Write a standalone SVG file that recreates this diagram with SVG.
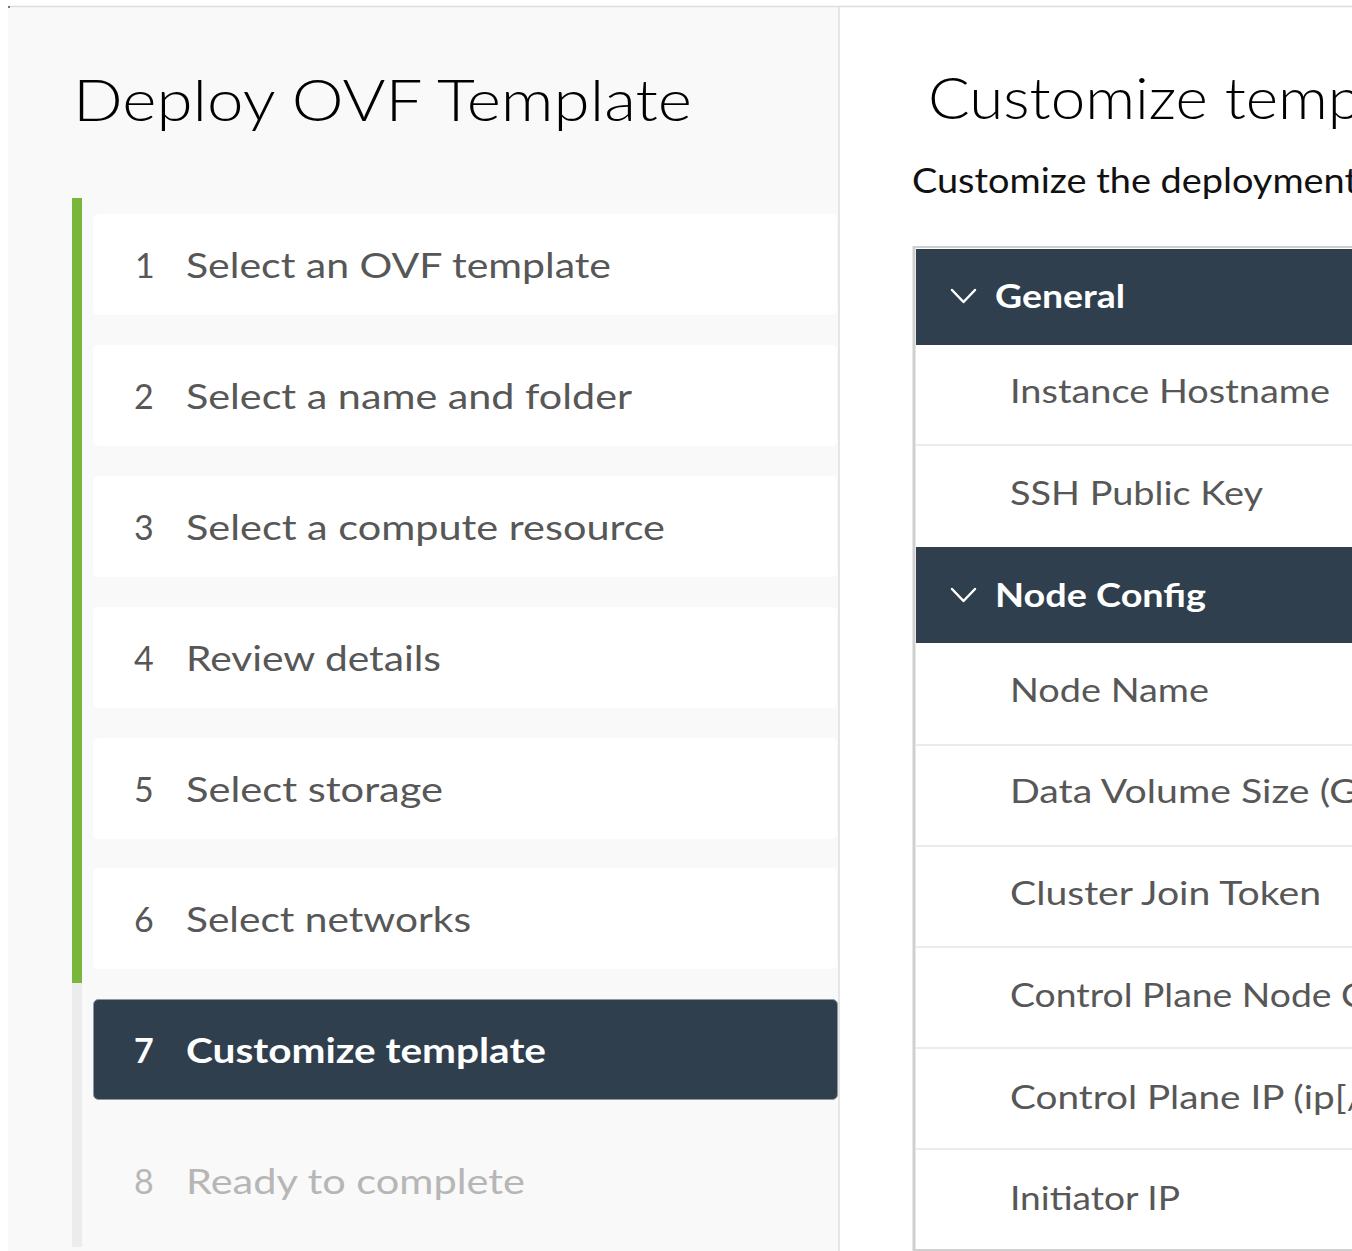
<svg xmlns="http://www.w3.org/2000/svg" width="1352" height="1251" viewBox="0 0 1352 1251">
  <style>
    text { font-family: Lato, "Open Sans", "Liberation Sans", sans-serif; }
    .title { font-size: 57px; font-weight: 300; fill: #000000; }
    .sub { font-size: 34px; fill: #111111; }
    .card { fill: #ffffff; }
    .num { font-size: 34px; fill: #575757; }
    .step { font-size: 34px; fill: #575757; }
    .todo { fill: #b6b6b6; }
    .active-card { fill: #2f3f4e; stroke: #8d98a2; stroke-width: 1; }
    .active { fill: #ffffff; font-weight: 700; }
    .hdr { fill: #2f3f4e; }
    .hdr-text { font-size: 33px; font-weight: 700; fill: #ffffff; }
    .chev { fill: none; stroke: #ffffff; stroke-width: 2.5; stroke-linecap: round; stroke-linejoin: round; }
    .row { fill: #ffffff; }
    .row-sep { stroke: #ebebeb; stroke-width: 2; }
    .row-text { font-size: 33px; fill: #575757; }
  </style>

  <!-- page frame -->
  <rect x="0" y="0" width="1352" height="1251" fill="#ffffff"/>
  <rect x="8" y="7" width="831" height="1244" fill="#f9f9f9"/>
  <line x1="8" y1="6.5" x2="1352" y2="6.5" stroke="#dddddd" stroke-width="1.5"/>
  <rect x="8" y="6" width="2" height="2" fill="#777777"/>
  <rect x="838" y="7" width="2" height="1244" fill="#e6e6e6"/>

  <!-- wizard sidebar -->
  <g id="sidebar">
    <text class="title" x="73" y="121" textLength="619" lengthAdjust="spacingAndGlyphs">Deploy OVF Template</text>
    <rect x="72" y="198" width="10" height="785" fill="#78b63c"/>
    <rect x="72" y="983" width="10" height="264" fill="#ececec"/>
  </g>

  <g id="step-1">
    <rect class="card" x="93" y="214" width="744" height="101" rx="5"/>
    <text class="num" x="135" y="278">1</text>
    <text class="step" x="186" y="278" textLength="425" lengthAdjust="spacingAndGlyphs">Select an OVF template</text>
  </g>
  <g id="step-2">
    <rect class="card" x="93" y="345" width="744" height="101" rx="5"/>
    <text class="num" x="134" y="409">2</text>
    <text class="step" x="186" y="409" textLength="446" lengthAdjust="spacingAndGlyphs">Select a name and folder</text>
  </g>
  <g id="step-3">
    <rect class="card" x="93" y="476" width="744" height="101" rx="5"/>
    <text class="num" x="134" y="540">3</text>
    <text class="step" x="186" y="540" textLength="479" lengthAdjust="spacingAndGlyphs">Select a compute resource</text>
  </g>
  <g id="step-4">
    <rect class="card" x="93" y="607" width="744" height="101" rx="5"/>
    <text class="num" x="134" y="671">4</text>
    <text class="step" x="186" y="671" textLength="255" lengthAdjust="spacingAndGlyphs">Review details</text>
  </g>
  <g id="step-5">
    <rect class="card" x="93" y="738" width="744" height="101" rx="5"/>
    <text class="num" x="134" y="802">5</text>
    <text class="step" x="186" y="802" textLength="257" lengthAdjust="spacingAndGlyphs">Select storage</text>
  </g>
  <g id="step-6">
    <rect class="card" x="93" y="868" width="744" height="101" rx="5"/>
    <text class="num" x="134" y="932">6</text>
    <text class="step" x="186" y="932" textLength="285" lengthAdjust="spacingAndGlyphs">Select networks</text>
  </g>
  <g id="step-7">
    <rect class="active-card" x="93.5" y="999.5" width="744" height="100" rx="5"/>
    <text class="num active" x="134" y="1063">7</text>
    <text class="step active" x="186" y="1063" textLength="360" lengthAdjust="spacingAndGlyphs">Customize template</text>
  </g>
  <g id="step-8">
    <text class="num todo" x="134" y="1194">8</text>
    <text class="step todo" x="186" y="1194" textLength="339" lengthAdjust="spacingAndGlyphs">Ready to complete</text>
  </g>

  <!-- customize template page -->
  <g id="page-heading">
    <text class="title" x="928" y="119" textLength="434" lengthAdjust="spacingAndGlyphs">Customize temp</text>
    <text class="sub" x="912" y="193" textLength="446" lengthAdjust="spacingAndGlyphs">Customize the deployment</text>
  </g>

  <g id="properties-table">
    <rect x="913" y="246" width="439" height="1005" fill="#ffffff"/>
    <line x1="913" y1="247" x2="1352" y2="247" stroke="#cfcfcf" stroke-width="2"/>
    <line x1="914" y1="246" x2="914" y2="1251" stroke="#cfcfcf" stroke-width="3"/>
    <line x1="913" y1="1250" x2="1352" y2="1250" stroke="#d0d0d0" stroke-width="2"/>
  </g>

  <g id="group-general">
    <rect class="hdr" x="916" y="249" width="436" height="96"/>
    <polyline class="chev" points="952,290 963.5,302 975,290"/>
    <text class="hdr-text" x="995" y="308" textLength="130" lengthAdjust="spacingAndGlyphs">General</text>
  </g>
  <g id="row-instance-hostname">
    <text class="row-text" x="1010" y="403" textLength="320" lengthAdjust="spacingAndGlyphs">Instance Hostname</text>
    <line class="row-sep" x1="916" y1="445" x2="1352" y2="445"/>
  </g>
  <g id="row-ssh-public-key">
    <text class="row-text" x="1010" y="505" textLength="253" lengthAdjust="spacingAndGlyphs">SSH Public Key</text>
  </g>

  <g id="group-node-config">
    <rect class="hdr" x="916" y="547" width="436" height="96"/>
    <polyline class="chev" points="952,589 963.5,601 975,589"/>
    <text class="hdr-text" x="995" y="607" textLength="211" lengthAdjust="spacingAndGlyphs">Node Config</text>
  </g>
  <g id="row-node-name">
    <text class="row-text" x="1010" y="702" textLength="199" lengthAdjust="spacingAndGlyphs">Node Name</text>
    <line class="row-sep" x1="916" y1="745" x2="1352" y2="745"/>
  </g>
  <g id="row-data-volume">
    <text class="row-text" x="1010" y="803" textLength="348" lengthAdjust="spacingAndGlyphs">Data Volume Size (G</text>
    <line class="row-sep" x1="916" y1="846" x2="1352" y2="846"/>
  </g>
  <g id="row-cluster-join-token">
    <text class="row-text" x="1010" y="905" textLength="311" lengthAdjust="spacingAndGlyphs">Cluster Join Token</text>
    <line class="row-sep" x1="916" y1="947" x2="1352" y2="947"/>
  </g>
  <g id="row-control-plane-node">
    <text class="row-text" x="1010" y="1007" textLength="356" lengthAdjust="spacingAndGlyphs">Control Plane Node C</text>
    <line class="row-sep" x1="916" y1="1048" x2="1352" y2="1048"/>
  </g>
  <g id="row-control-plane-ip">
    <text class="row-text" x="1010" y="1109" textLength="354" lengthAdjust="spacingAndGlyphs">Control Plane IP (ip[/</text>
    <line class="row-sep" x1="916" y1="1149" x2="1352" y2="1149"/>
  </g>
  <g id="row-initiator-ip">
    <text class="row-text" x="1010" y="1210" textLength="170" lengthAdjust="spacingAndGlyphs">Initiator IP</text>
  </g>
</svg>
